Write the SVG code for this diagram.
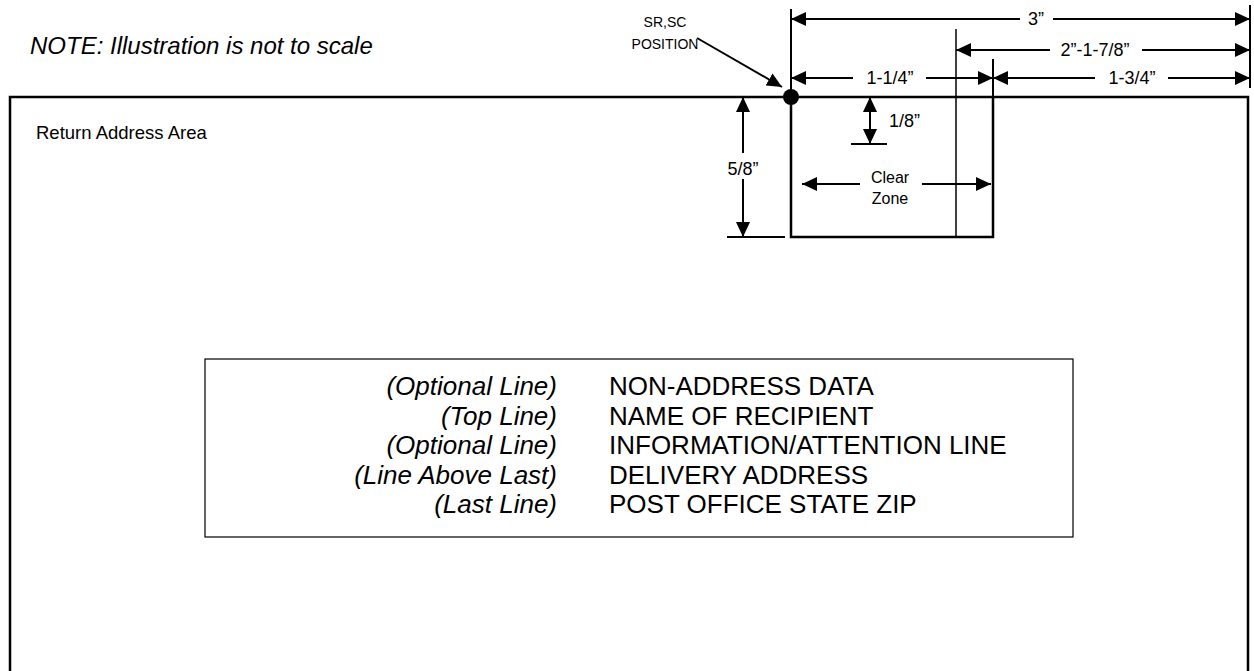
<svg xmlns="http://www.w3.org/2000/svg" width="1254" height="671" viewBox="0 0 1254 671">
<style>
text{font-family:"Liberation Sans",Arial,sans-serif;fill:#000}
.dim{font-size:18px;text-anchor:middle}
.ln{stroke:#000;fill:none}
.thick{stroke-width:2.5}
.med{stroke-width:2}
.thin{stroke-width:1.5}
.it{font-style:italic}
</style>
<defs>
<marker id="ah" markerUnits="userSpaceOnUse" markerWidth="16" markerHeight="14" refX="15" refY="7" orient="auto">
<path d="M0,0 L15,7 L0,14 Z" fill="#000"/>
</marker>
</defs>
<rect width="1254" height="671" fill="#fff"/>
<text x="30" y="54" class="it" font-size="24">NOTE: Illustration is not to scale</text>
<g id="envelope">
<path class="ln thick" d="M10,671 V97 H1248 V671"/>
<text x="36" y="139" font-size="18.5">Return Address Area</text>
</g>
<g id="clear-zone">
<path class="ln thick" d="M791,97 V237 H993 V97"/>
<line class="ln thin" x1="956" y1="29" x2="956" y2="237"/>
<text x="890" y="183" class="dim" style="font-size:16px">Clear</text>
<text x="890" y="204" class="dim" style="font-size:16px">Zone</text>
</g>
<g id="sr-sc">
<circle cx="791" cy="97" r="8" fill="#000"/>
<text x="665" y="27" text-anchor="middle" font-size="14">SR,SC</text>
<text x="665" y="49" text-anchor="middle" font-size="14">POSITION</text>
</g>
<g id="address-block">
<rect x="205" y="359" width="868" height="178" fill="none" stroke="#000" stroke-width="1.2"/>
<g font-size="26">
<text x="557" y="395" class="it" text-anchor="end">(Optional Line)</text>
<text x="557" y="424.5" class="it" text-anchor="end">(Top Line)</text>
<text x="557" y="454" class="it" text-anchor="end">(Optional Line)</text>
<text x="557" y="483.5" class="it" text-anchor="end">(Line Above Last)</text>
<text x="557" y="513" class="it" text-anchor="end">(Last Line)</text>
<text x="609" y="395">NON-ADDRESS DATA</text>
<text x="609" y="424.5">NAME OF RECIPIENT</text>
<text x="609" y="454">INFORMATION/ATTENTION LINE</text>
<text x="609" y="483.5">DELIVERY ADDRESS</text>
<text x="609" y="513">POST OFFICE STATE ZIP</text>
</g>
</g>
<g id="dimension-labels">
<text x="1036" y="25" class="dim">3”</text>
<text x="1095" y="56" class="dim">2”-1-7/8”</text>
<text x="890" y="84" class="dim">1-1/4”</text>
<text x="1132" y="84" class="dim">1-3/4”</text>
<text x="743" y="175" class="dim">5/8”</text>
<text x="889" y="127" font-size="18">1/8”</text>
</g>
<g id="connectors" class="ln">
<line class="ln med" x1="791" y1="9" x2="791" y2="97"/>
<line class="ln med" x1="1250" y1="5" x2="1250" y2="88"/>
<line class="ln med" x1="993" y1="59" x2="993" y2="97"/>
<line class="ln med" x1="1020" y1="19" x2="791" y2="19" marker-end="url(#ah)"/>
<line class="ln med" x1="1053" y1="19" x2="1250" y2="19" marker-end="url(#ah)"/>
<line class="ln med" x1="1050" y1="50" x2="956" y2="50" marker-end="url(#ah)"/>
<line class="ln med" x1="1142" y1="50" x2="1250" y2="50" marker-end="url(#ah)"/>
<line class="ln med" x1="853" y1="78" x2="791" y2="78" marker-end="url(#ah)"/>
<line class="ln med" x1="926" y1="78" x2="993" y2="78" marker-end="url(#ah)"/>
<line class="ln med" x1="1095" y1="78" x2="993" y2="78" marker-end="url(#ah)"/>
<line class="ln med" x1="1168" y1="78" x2="1250" y2="78" marker-end="url(#ah)"/>
<line class="ln med" x1="697" y1="38" x2="782" y2="87" marker-end="url(#ah)"/>
<line class="ln med" x1="743" y1="153" x2="743" y2="97" marker-end="url(#ah)"/>
<line class="ln med" x1="743" y1="179" x2="743" y2="237" marker-end="url(#ah)"/>
<line class="ln med" x1="727" y1="237" x2="785" y2="237"/>
<line class="ln med" x1="870" y1="120" x2="870" y2="97" marker-end="url(#ah)"/>
<line class="ln med" x1="870" y1="120" x2="870" y2="144" marker-end="url(#ah)"/>
<line class="ln med" x1="851" y1="144" x2="887" y2="144"/>
<line class="ln med" x1="860" y1="184" x2="802" y2="184" marker-end="url(#ah)"/>
<line class="ln med" x1="922" y1="184" x2="991" y2="184" marker-end="url(#ah)"/>
</g>
</svg>
